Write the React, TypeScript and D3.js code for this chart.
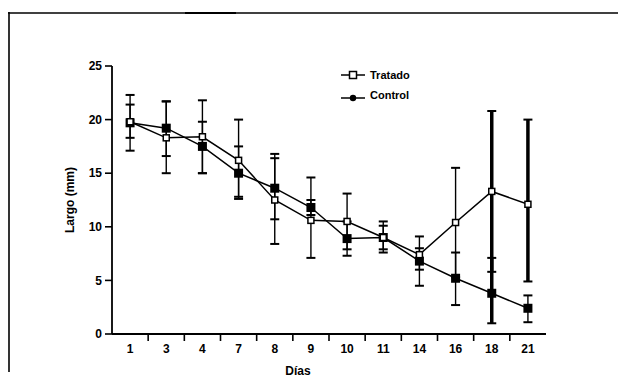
import React from "react";
import * as d3 from "d3";

const days = ["1", "3", "4", "7", "8", "9", "10", "11", "14", "16", "18", "21"];
const tratado = [19.8, 18.3, 18.4, 16.2, 12.5, 10.6, 10.5, 9.0, 7.4, 10.4, 13.3, 12.1];
const tratadoLow = [17.1, 15.0, 15.0, 12.6, 8.4, 7.1, 7.9, 7.6, 6.0, 5.3, 5.8, 4.9];
const tratadoHigh = [22.3, 21.7, 21.8, 20.0, 16.8, 14.6, 13.1, 10.5, 9.1, 15.5, 20.8, 20.0];
const control = [19.7, 19.2, 17.5, 15.0, 13.6, 11.8, 8.9, 9.0, 6.8, 5.2, 3.8, 2.4];
const controlLow = [18.3, 16.6, 15.0, 12.8, 10.7, 11.1, 7.3, 7.9, 4.5, 2.7, 1.0, 1.1];
const controlHigh = [21.4, 21.7, 19.8, 17.5, 16.4, 12.5, 10.5, 10.1, 8.0, 7.6, 7.1, 3.6];
const yTicks = [0, 5, 10, 15, 20, 25];
const seriesNames = ["Tratado", "Control"];
const thickDaysTratado = ["18", "21"];
const thickDaysControl = ["18"];

const FONT = "'Liberation Sans', Arial, sans-serif";

export default function App() {
  const W = 618;
  const H = 386;
  const x = d3.scaleBand<string>().domain(days).range([112, 546]).padding(0);
  const y = d3.scaleLinear().domain([0, 25]).range([334, 66]);
  const cx = (i: number) => (x(days[i]) as number) + x.bandwidth() / 2;
  const line = d3
    .line<number>()
    .x((_, i) => cx(i))
    .y((d) => y(d));

  const errBars = (low: number[], high: number[], key: string, thickDays: string[]) =>
    days.map((d, i) => {
      const sw = thickDays.includes(d) ? 3.5 : 1.4;
      const X = cx(i);
      return (
        <g key={key + d}>
          <line x1={X} x2={X} y1={y(high[i])} y2={y(low[i])} stroke="#000" strokeWidth={sw} />
          <line x1={X - 4.5} x2={X + 4.5} y1={y(high[i])} y2={y(high[i])} stroke="#000" strokeWidth={2} />
          <line x1={X - 4.5} x2={X + 4.5} y1={y(low[i])} y2={y(low[i])} stroke="#000" strokeWidth={2} />
        </g>
      );
    });

  return (
    <svg
      width={W}
      height={H}
      style={{ position: "absolute", left: 0, top: 0, background: "#fff" }}
      fontFamily={FONT}
    >
      <rect x={0} y={0} width={W} height={H} fill="#fff" />
      {/* frame */}
      <line x1={8} x2={W} y1={13} y2={13} stroke="#000" strokeWidth={1.6} />
      <line x1={185} x2={236} y1={13} y2={13} stroke="#000" strokeWidth={2} />
      <line x1={9} x2={9} y1={12} y2={372} stroke="#000" strokeWidth={1.6} />

      {/* axes */}
      <line x1={112} x2={112} y1={y(25)} y2={y(0)} stroke="#000" strokeWidth={1.8} />
      <line x1={112} x2={546} y1={y(0)} y2={y(0)} stroke="#000" strokeWidth={1.8} />
      {yTicks.map((t) => (
        <g key={"yt" + t}>
          <line x1={105} x2={112} y1={y(t)} y2={y(t)} stroke="#000" strokeWidth={1.6} />
          <text
            x={102}
            y={y(t)}
            dy="0.35em"
            textAnchor="end"
            fontSize={12}
            fontWeight="bold"
          >
            {t}
          </text>
        </g>
      ))}
      {days.map((d, i) => (
        <g key={"xt" + d}>
          {i > 0 && (
            <line
              x1={x(d) as number}
              x2={x(d) as number}
              y1={y(0) + 1}
              y2={y(0) + 7}
              stroke="#000"
              strokeWidth={1.6}
            />
          )}
          <text x={cx(i)} y={353} textAnchor="middle" fontSize={12} fontWeight="bold">
            {d}
          </text>
        </g>
      ))}
      <text x={298} y={375} textAnchor="middle" fontSize={12} fontWeight="bold">
        Días
      </text>
      <text
        transform="translate(74,200) rotate(-90)"
        textAnchor="middle"
        fontSize={12}
        fontWeight="bold"
      >
        Largo (mm)
      </text>

      {/* lines */}
      <path d={line(control) as string} fill="none" stroke="#000" strokeWidth={1.5} />
      <path d={line(tratado) as string} fill="none" stroke="#000" strokeWidth={1.5} />

      {/* error bars */}
      {errBars(controlLow, controlHigh, "c", thickDaysControl)}
      {errBars(tratadoLow, tratadoHigh, "t", thickDaysTratado)}

      {/* markers */}
      {control.map((v, i) => (
        <rect key={"cm" + i} x={cx(i) - 4.5} y={y(v) - 4.5} width={9} height={9} fill="#000" />
      ))}
      {tratado.map((v, i) => (
        <rect
          key={"tm" + i}
          x={cx(i) - 3}
          y={y(v) - 3}
          width={6}
          height={6}
          fill="#fff"
          stroke="#000"
          strokeWidth={1.5}
        />
      ))}

      {/* legend */}
      <g>
        <line x1={341} x2={365} y1={75} y2={75} stroke="#000" strokeWidth={1.5} />
        <rect x={349.5} y={71.5} width={7} height={7} fill="#fff" stroke="#000" strokeWidth={1.5} />
        <text x={370} y={75} dy="0.35em" fontSize={11} fontWeight="bold">
          {seriesNames[0]}
        </text>
        <line x1={341} x2={365} y1={98} y2={98} stroke="#000" strokeWidth={1.5} />
        <circle cx={353} cy={98} r={3.2} fill="#000" />
        <text x={370} y={95} dy="0.35em" fontSize={11} fontWeight="bold">
          {seriesNames[1]}
        </text>
      </g>
    </svg>
  );
}
